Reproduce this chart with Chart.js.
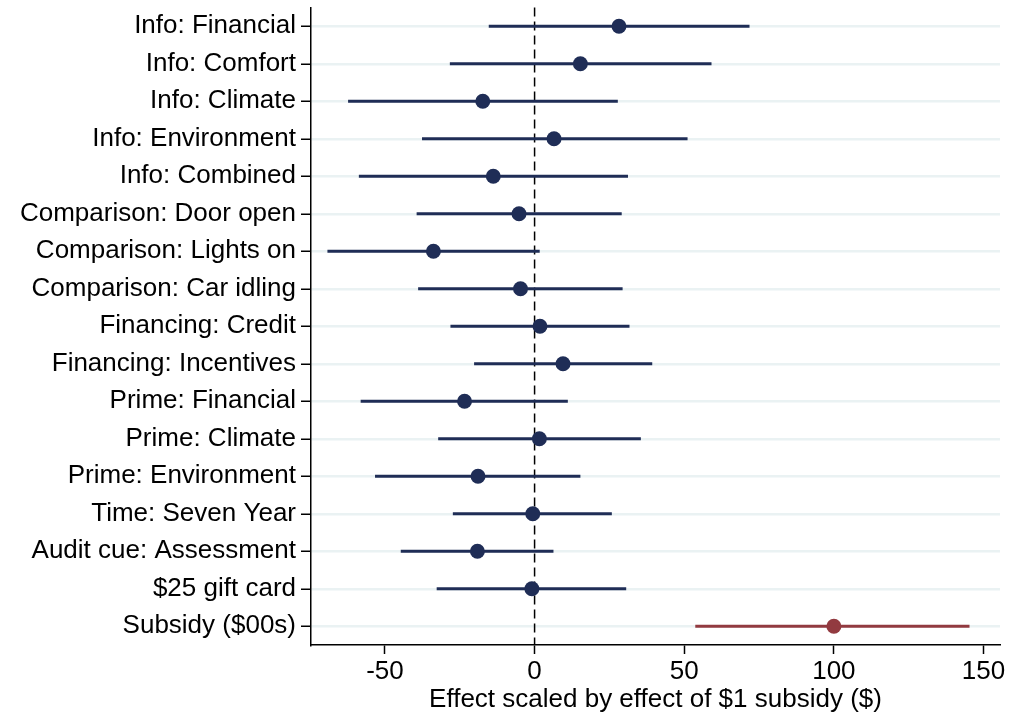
<!DOCTYPE html>
<html>
<head>
<meta charset="utf-8">
<script src="https://cdn.jsdelivr.net/npm/chart.js@4/dist/chart.umd.min.js"></script>
<style>
  html, body { margin: 0; padding: 0; background: #fff; }
  #wrap { width: 1011px; height: 719px; }
</style>
</head>
<body>
<div id="wrap"><canvas id="chart"></canvas></div>
<script>
var labels = [
  'Info: Financial', 'Info: Comfort', 'Info: Climate', 'Info: Environment', 'Info: Combined',
  'Comparison: Door open', 'Comparison: Lights on', 'Comparison: Car idling',
  'Financing: Credit', 'Financing: Incentives',
  'Prime: Financial', 'Prime: Climate', 'Prime: Environment',
  'Time: Seven Year', 'Audit cue: Assessment', '$25 gift card', 'Subsidy ($00s)'
];
var estimates = [28.2, 15.3, -17.3, 6.5, -13.8, -5.2, -33.8, -4.7, 1.8, 9.5, -23.4, 1.6, -18.9, -0.6, -19.1, -0.9, 100];
var lower = [-15.2, -28.2, -62.2, -37.5, -58.6, -39.3, -69.1, -38.8, -28.0, -20.1, -58.0, -32.1, -53.2, -27.2, -44.6, -32.6, 53.8];
var upper = [71.7, 59.0, 27.7, 51.0, 31.1, 29.0, 1.6, 29.3, 31.6, 39.2, 11.0, 35.4, 15.2, 25.7, 6.2, 30.5, 145.2];
var xTicks = [-50, 0, 50, 100, 150];
var xTitle = 'Effect scaled by effect of $1 subsidy ($)';

var NAVY = '#1f2d56';
var RED = '#923a40';
var FONT = '"Liberation Sans", Arial, sans-serif';

var colors = labels.map(function(l, i) { return i === labels.length - 1 ? RED : NAVY; });

// dashed reference line at zero
var zeroLine = {
  id: 'zeroLine',
  beforeDatasetsDraw: function(chart) {
    var ctx = chart.ctx;
    var x = chart.scales.x.getPixelForValue(0);
    var area = chart.chartArea;
    ctx.save();
    ctx.strokeStyle = '#000';
    ctx.lineWidth = 1.5;
    ctx.setLineDash([9, 5]);
    ctx.beginPath();
    ctx.moveTo(x, area.top);
    ctx.lineTo(x, area.bottom);
    ctx.stroke();
    ctx.restore();
  }
};

Chart.defaults.font.family = FONT;
Chart.defaults.color = '#000';

new Chart(document.getElementById('chart'), {
  type: 'bar',
  data: {
    labels: labels,
    datasets: [
      {
        type: 'line',
        indexAxis: 'y',
        data: estimates,
        showLine: false,
        pointRadius: 7.5,
        pointHoverRadius: 7.5,
        pointBorderWidth: 0,
        pointBackgroundColor: colors,
        pointBorderColor: colors
      },
      {
        data: lower.map(function(lo, i) { return [lo, upper[i]]; }),
        backgroundColor: colors,
        barThickness: 2.5,
        borderWidth: 0
      }
    ]
  },
  options: {
    indexAxis: 'y',
    responsive: true,
    maintainAspectRatio: false,
    animation: false,
    layout: { padding: { top: 6, right: 11, bottom: 0, left: 0 } },
    plugins: {
      legend: { display: false },
      tooltip: { enabled: false }
    },
    scales: {
      x: {
        type: 'linear',
        min: -74.7,
        max: 155.5,
        afterBuildTicks: function(scale) {
          scale.ticks = xTicks.map(function(v) { return { value: v }; });
        },
        afterFit: function(scale) {
          scale.height = 74;
          scale.paddingLeft = 0;
          scale.paddingRight = 0;
        },
        grid: {
          drawOnChartArea: false,
          drawTicks: true,
          tickLength: 9,
          tickColor: '#000',
          tickWidth: 1.5
        },
        border: { display: true, color: '#000', width: 1.5 },
        ticks: { font: { size: 26 }, padding: 2, color: '#000' },
        title: {
          display: true,
          text: xTitle,
          font: { size: 26 },
          color: '#000',
          padding: { top: 0, bottom: 4 }
        }
      },
      y: {
        type: 'category',
        offset: true,
        afterFit: function(scale) {
          scale.width = 311;
          scale.paddingTop = 0;
          scale.paddingBottom = 0;
        },
        grid: {
          offset: false,
          color: '#eaf2f3',
          lineWidth: 2.5,
          drawTicks: true,
          tickLength: 10,
          tickColor: '#000',
          tickWidth: 1.5
        },
        border: { display: true, color: '#000', width: 1.5 },
        ticks: { font: { size: 26 }, padding: 5, color: '#000', autoSkip: false }
      }
    }
  },
  plugins: [zeroLine]
});
</script>
</body>
</html>
